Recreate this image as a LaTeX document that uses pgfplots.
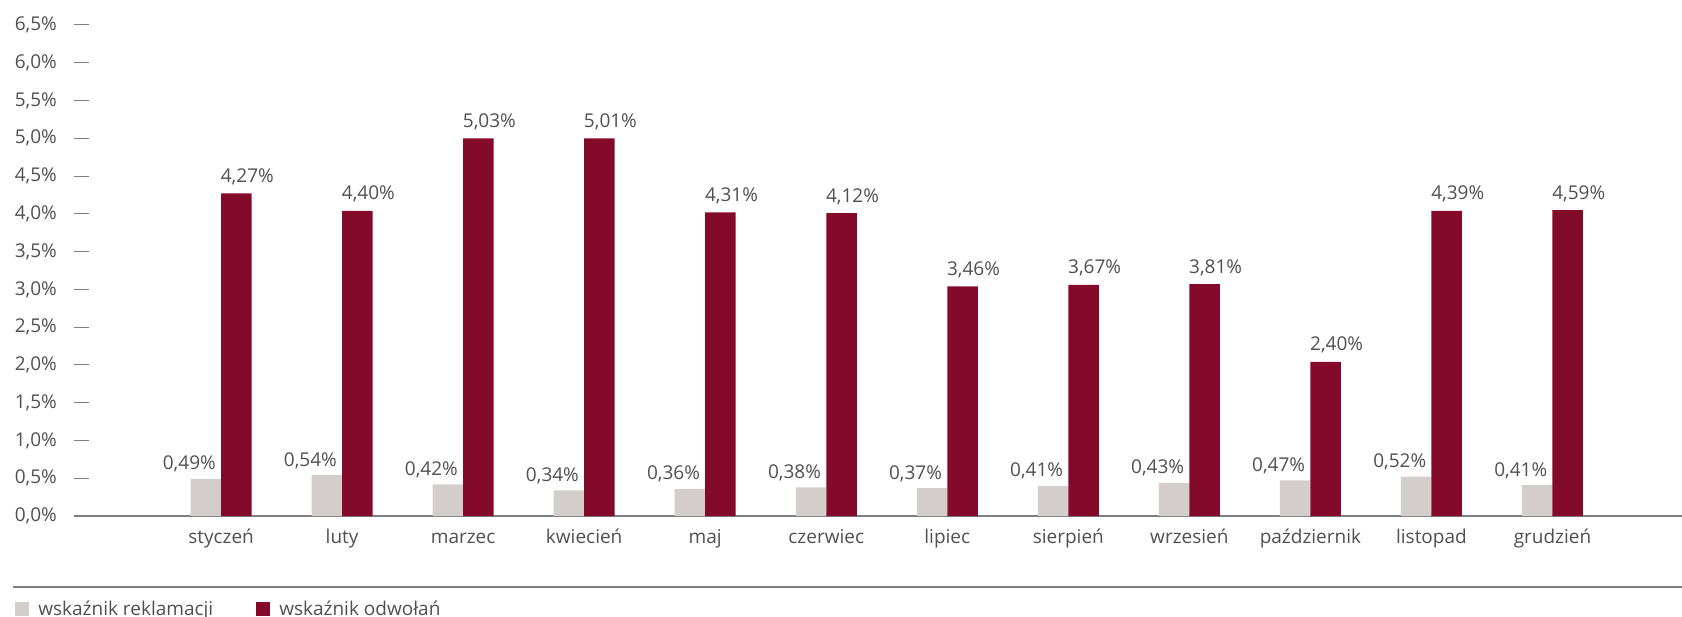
\documentclass[border=0pt]{standalone}
\usepackage{fontspec}
\setmainfont{Open Sans}
\usepackage{pgfplots}
\usepackage{pgfplotstable}
\pgfplotsset{compat=1.18}
\definecolor{odw}{HTML}{840A2B}
\definecolor{rek}{HTML}{D3CECB}
\definecolor{txt}{HTML}{505050}
\definecolor{axl}{HTML}{7F7F7F}
\pgfplotstableread{
x y lab
0 0.49 {0,49}
1 0.54 {0,54}
2 0.42 {0,42}
3 0.34 {0,34}
4 0.36 {0,36}
5 0.38 {0,38}
6 0.37 {0,37}
7 0.40 {0,41}
8 0.44 {0,43}
9 0.47 {0,47}
10 0.52 {0,52}
11 0.41 {0,41}
}\reklamacje
\pgfplotstableread{
x y lab
0 4.27 {4,27}
1 4.04 {4,40}
2 5.00 {5,03}
3 5.00 {5,01}
4 4.02 {4,31}
5 4.01 {4,12}
6 3.04 {3,46}
7 3.06 {3,67}
8 3.07 {3,81}
9 2.04 {2,40}
10 4.04 {4,39}
11 4.05 {4,59}
}\odwolania
\newcommand{\fs}{\fontsize{19bp}{22bp}\selectfont}
\begin{document}
\begin{tikzpicture}
\path[use as bounding box] (0,0) rectangle (1682bp,617bp);
\begin{axis}[
  at={(74bp,101bp)}, anchor=south west,
  scale only axis, width=1608bp, height=491bp,
  xmin=-1.215, xmax=12.07, ymin=0, ymax=6.5,
  clip=false,
  ybar=0pt, bar width=30.5bp,
  axis line style={draw=none},
  xtick={0,...,11},
  xticklabels={styczeń,luty,marzec,kwiecień,maj,czerwiec,lipiec,sierpień,wrzesień,październik,listopad,grudzień},
  x tick style={draw=none},
  xtick pos=bottom,
  xticklabel style={font=\fs, text=txt, anchor=north, inner sep=0pt, yshift=-13bp, text height=14bp, text depth=4bp},
  ytick={0,0.5,...,6.5},
  yticklabels={{0,0\%},{0,5\%},{1,0\%},{1,5\%},{2,0\%},{2,5\%},{3,0\%},{3,5\%},{4,0\%},{4,5\%},{5,0\%},{5,5\%},{6,0\%},{6,5\%}},
  ytick pos=left,
  tick align=inside,
  major tick length=15bp,
  y tick style={draw=axl, line width=1bp},
  yticklabel style={font=\fs, text=txt, anchor=east, inner sep=0pt, xshift=-17bp},
  point meta=explicit symbolic,
  nodes near coords={\pgfplotspointmeta\%},
  legend columns=2,
  legend style={at={(-0.0366,-0.1884)}, anchor=west, draw=none, fill=none, inner sep=0pt,
    font=\fs, text=txt, nodes={inner sep=0pt},
    /tikz/every even column/.append style={column sep=43bp}},
  legend image code/.code={\fill[#1] (0bp,-7bp) rectangle (14bp,7bp); \path (23bp,0);},
]
\draw[axl, line width=2bp] (rel axis cs:0,0) -- (rel axis cs:1,0);
\addplot[fill=rek, draw=none, nodes near coords style={font=\fs, text=txt, anchor=base, yshift=9bp, xshift=-16.5bp}] table[x=x, y=y, meta=lab] {\reklamacje};
\addplot[fill=odw, draw=none, nodes near coords style={font=\fs, text=txt, anchor=base, yshift=11bp, xshift=11bp}] table[x=x, y=y, meta=lab] {\odwolania};
\legend{wskaźnik reklamacji, wskaźnik odwołań}
\draw[axl, line width=2bp] (rel axis cs:-0.0379,-0.1446) -- (rel axis cs:1,-0.1446);
\end{axis}
\end{tikzpicture}
\end{document}
